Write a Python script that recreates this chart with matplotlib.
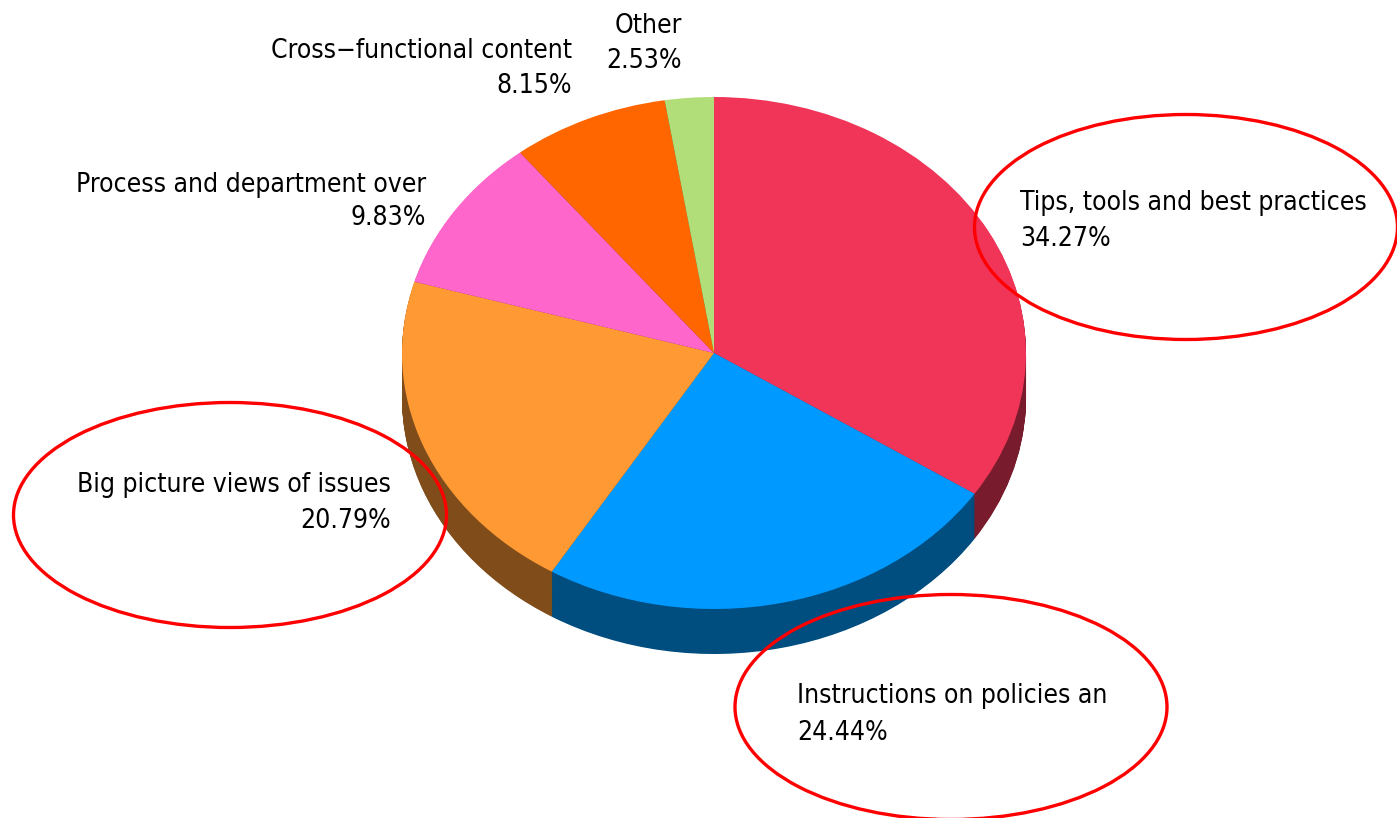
import numpy as np
import matplotlib
matplotlib.use("Agg")
import matplotlib.pyplot as plt
from matplotlib.patches import Ellipse

# ---- data ----
categories = ["Tips, tools and best practices", "Instructions on policies an",
              "Big picture views of issues", "Process and department over",
              "Cross\u2212functional content", "Other"]
values = [34.27, 24.44, 20.79, 9.83, 8.15, 2.53]
pct_labels = ["34.27%", "24.44%", "20.79%", "9.83%", "8.15%", "2.53%"]

top_colors = ["#F03559", "#0099FF", "#FF9933", "#FF66CC", "#FF6600", "#B2DE7A"]

W, H = 1397, 818
fig = plt.figure(figsize=(W / 100, H / 100), dpi=100)
fig.patch.set_facecolor("white")

# pie axes: x scale 312 px/unit, y scale 256 px/unit, centre at (714, 353)
rx, ry, cx, cy = 312.0, 256.0, 714.0, 353.0
xl, xr, yt, yb = 1.1, 1.1, 1.1, 1.3
left = (cx - xl * rx) / W
width = (xl + xr) * rx / W
bottom = (H - (cy + yb * ry)) / H
height = (yt + yb) * ry / H
ax = fig.add_axes([left, bottom, width, height])

def darker(c, f=0.5):
    r, g, b = matplotlib.colors.to_rgb(c)
    return (r * f, g * f, b * f)

side_colors = [darker(c) for c in top_colors]
depth = 45.0 / ry
for d in np.linspace(depth, 0.004, 60):
    ax.pie(values, colors=side_colors, center=(0, -d), startangle=90,
           counterclock=False, radius=1.0, wedgeprops=dict(linewidth=0))
ax.pie(values, colors=top_colors, center=(0, 0), startangle=90,
       counterclock=False, radius=1.0, wedgeprops=dict(linewidth=0))
ax.set_aspect("auto")
ax.set_xlim(-xl, xr)
ax.set_ylim(-yb, yt)
ax.axis("off")

# overlay axes in pixel coordinates for labels and annotation ellipses
ov = fig.add_axes([0, 0, 1, 1], zorder=5)
ov.set_xlim(0, W)
ov.set_ylim(H, 0)
ov.axis("off")
ov.patch.set_alpha(0)

fam = ["DejaVu Sans"]
fs = 19

# (x, baseline line 1, baseline line 2, alignment)
label_pos = [
    (1020, 210, 246, "left"),
    (797, 703, 740, "left"),
    (391, 492, 528, "right"),
    (426, 192, 225, "right"),
    (572, 58, 93, "right"),
    (682, 33, 68, "right"),
]
for name, pct, (x, b1, b2, ha) in zip(categories, pct_labels, label_pos):
    ov.text(x, b1, name, ha=ha, va="baseline", fontsize=fs, family=fam,
            fontstretch="condensed", color="black")
    ov.text(x, b2, pct, ha=ha, va="baseline", fontsize=fs, family=fam,
            fontstretch="condensed", color="black")

# red annotation ellipses
for (ex, ey, ew, eh) in [(1186, 227, 423, 225), (230, 515, 433, 225), (951, 707, 432, 225)]:
    ov.add_patch(Ellipse((ex, ey), ew, eh, fill=False, edgecolor="#FF0000", linewidth=2.4))

fig.savefig("out.png", dpi=100)
